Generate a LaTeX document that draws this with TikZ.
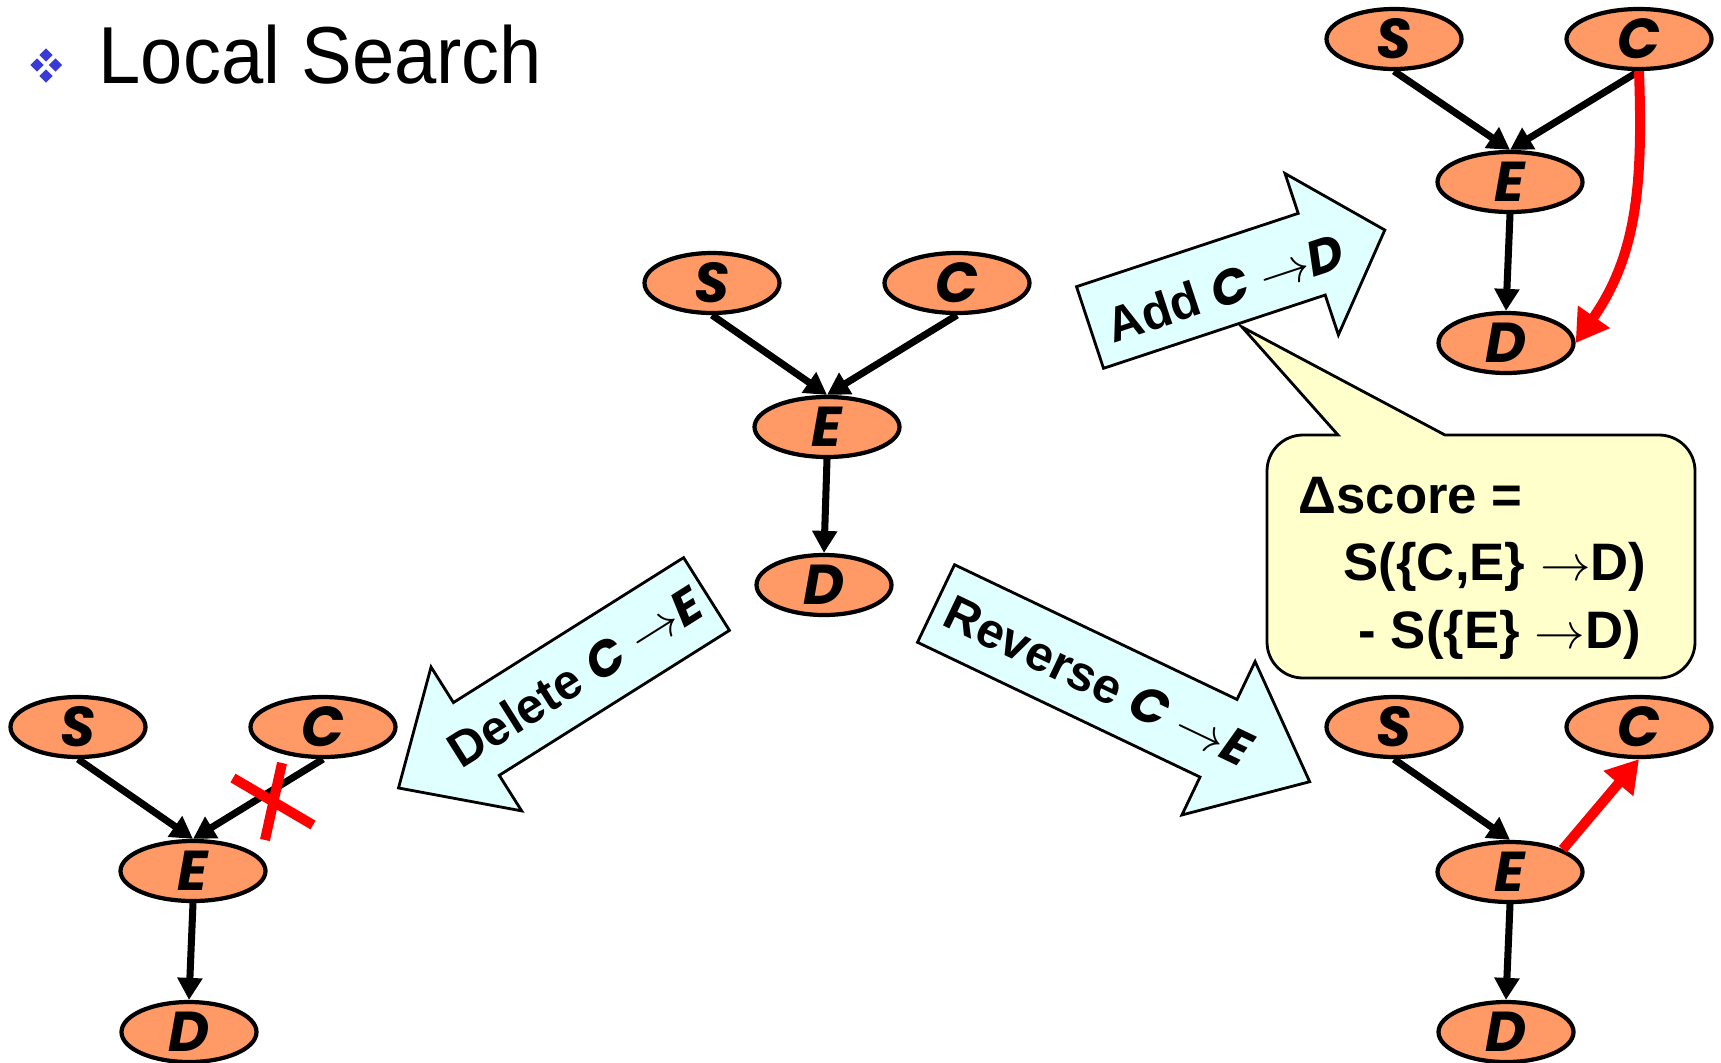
\documentclass[tikz,border=0pt]{standalone}
\usepackage{fontspec}
\setmainfont{Liberation Sans}
\newfontfamily\comic{Poppins}
\usetikzlibrary{arrows.meta,shapes.geometric}
\definecolor{nodeorange}{RGB}{255,153,102}
\definecolor{arrowcyan}{RGB}{224,255,255}
\definecolor{noteyellow}{RGB}{255,255,204}
\definecolor{bulletblue}{RGB}{58,58,214}
\newcommand\vname[1]{{\comic\bfseries\itshape #1}}
\def\fatarrow[#1](#2)(#3:#4:#5){\draw[#1, shift={(#2)}, rotate=#3] (0,0.43) -- (#4,0.43) -- (#4,0.85) -- (#5,0) -- (#4,-0.85) -- (#4,-0.43) -- (0,-0.43) -- cycle;}
\tikzset{
	varnode/.style={ellipse, draw, line width=1.2pt, fill=nodeorange, inner sep=0pt, minimum width=1.35cm, minimum height=0.6cm, font=\comic\bfseries\itshape\fontsize{16}{16}\selectfont},
	widenode/.style={minimum width=1.45cm},
	link/.style={line width=2pt, -{Triangle[length=0.22cm,width=0.24cm]}},
	newlink/.style={line width=0.1cm, red, -{Triangle[length=0.32cm,width=0.37cm]}},
	xmark/.style={line width=0.1cm, red},
	blockarrow/.style={draw, line width=0.8pt, fill=arrowcyan},
	steplabel/.style={font=\bfseries\fontsize{14}{14}\selectfont, inner sep=0pt},
	note/.style={draw, line width=0.8pt, fill=noteyellow},
}

\begin{document}
\begin{tikzpicture}
		%%%%% START %%%%%
		\fill[white] (0,0) rectangle (17.21,-10.62);
		\useasboundingbox (0,0) rectangle (17.21,-10.62);
		
		% title
		\node[diamond, fill=bulletblue, inner sep=0pt, minimum size=0.14cm] (b1) at (0.46,-0.55) {};
		\node[diamond, fill=bulletblue, inner sep=0pt, minimum size=0.14cm] (b2) at (0.37,-0.65) {};
		\node[diamond, fill=bulletblue, inner sep=0pt, minimum size=0.14cm] (b3) at (0.555,-0.65) {};
		\node[diamond, fill=bulletblue, inner sep=0pt, minimum size=0.14cm] (b4) at (0.46,-0.76) {};
		\node[anchor=base west, inner sep=0pt, font=\fontsize{23}{23}\selectfont] (title) at (0.98,-0.83) {\scalebox{0.94}[1]{Local Search}};
		
		% current network
		\node[varnode] (mS) at (7.12,-2.83) {S};
		\node[varnode, widenode] (mC) at (9.57,-2.83) {C};
		\node[varnode, widenode] (mE) at (8.27,-4.27) {E};
		\node[varnode] (mD) at (8.24,-5.85) {D};
		\draw[link] (mS.south) -- (mE.north);
		\draw[link] (mC.south) -- (mE.north);
		\draw[link] (mE.south) -- (mD.north);
		
		% score callout
		\draw[note] (13.38,-4.35) [rounded corners=0.36cm] -- (12.67,-4.35) -- (12.67,-6.78) -- (16.95,-6.78) -- (16.95,-4.35) [sharp corners] -- (14.45,-4.35) -- (12.42,-3.27) -- cycle;
		\node[anchor=base west, align=left, inner sep=0pt, font=\bfseries\fontsize{15}{19.2}\selectfont] (gain) at (12.98,-6.48) {Δscore =\\\hspace*{0.45cm}S(\{C,E\} $\rightarrow$D)\\\hspace*{0.60cm}- S(\{E\} $\rightarrow$D)};
		
		% moves
		\fatarrow[blockarrow](10.90,-3.275)(18.3:2.335:3.105);
		\node[steplabel, rotate=18.3] (addlbl) at (12.25,-2.88) {Add \vname{C} $\rightarrow$\vname{D}};
		
		\fatarrow[blockarrow](7.065,-5.94)(212.2:2.72:3.64);
		\node[steplabel, rotate=32.2] (dellbl) at (5.75,-6.77) {Delete \vname{C} $\rightarrow$\vname{E}};
		
		\fatarrow[blockarrow](9.36,-6.035)(-25.5:3.13:4.14);
		\node[steplabel, rotate=-25.5] (revlbl) at (10.98,-6.81) {Reverse \vname{C} $\rightarrow$\vname{E}};
		
		% add C -> D
		\node[varnode] (aS) at (13.94,-0.39) {S};
		\node[varnode, widenode] (aC) at (16.39,-0.39) {C};
		\node[varnode, widenode] (aE) at (15.10,-1.82) {E};
		\node[varnode] (aD) at (15.06,-3.43) {D};
		\draw[link] (aS.south) -- (aE.north);
		\draw[link] (aC.south) -- (aE.north);
		\draw[link] (aE.south) -- (aD.north);
		\draw[newlink] (aC.south) to[out=-88, in=55] (aD.east);
		
		% delete C -> E
		\node[varnode] (dS) at (0.78,-7.27) {S};
		\node[varnode, widenode] (dC) at (3.23,-7.27) {C};
		\node[varnode, widenode] (dE) at (1.93,-8.71) {E};
		\node[varnode] (dD) at (1.89,-10.32) {D};
		\draw[link] (dS.south) -- (dE.north);
		\draw[link] (dC.south) -- (dE.north);
		\draw[link] (dE.south) -- (dD.north);
		\draw[xmark] (2.33,-7.78) -- (3.13,-8.25);
		\draw[xmark] (2.82,-7.63) -- (2.65,-8.40);
		
		% reverse C -> E
		\node[varnode] (rS) at (13.94,-7.27) {S};
		\node[varnode, widenode] (rC) at (16.39,-7.27) {C};
		\node[varnode, widenode] (rE) at (15.10,-8.72) {E};
		\node[varnode] (rD) at (15.06,-10.32) {D};
		\draw[link] (rS.south) -- (rE.north);
		\draw[link] (rE.south) -- (rD.north);
		\draw[newlink] (rE.north east) -- (rC.south);
		
		%%%%% END %%%%%
\end{tikzpicture}
\end{document}
